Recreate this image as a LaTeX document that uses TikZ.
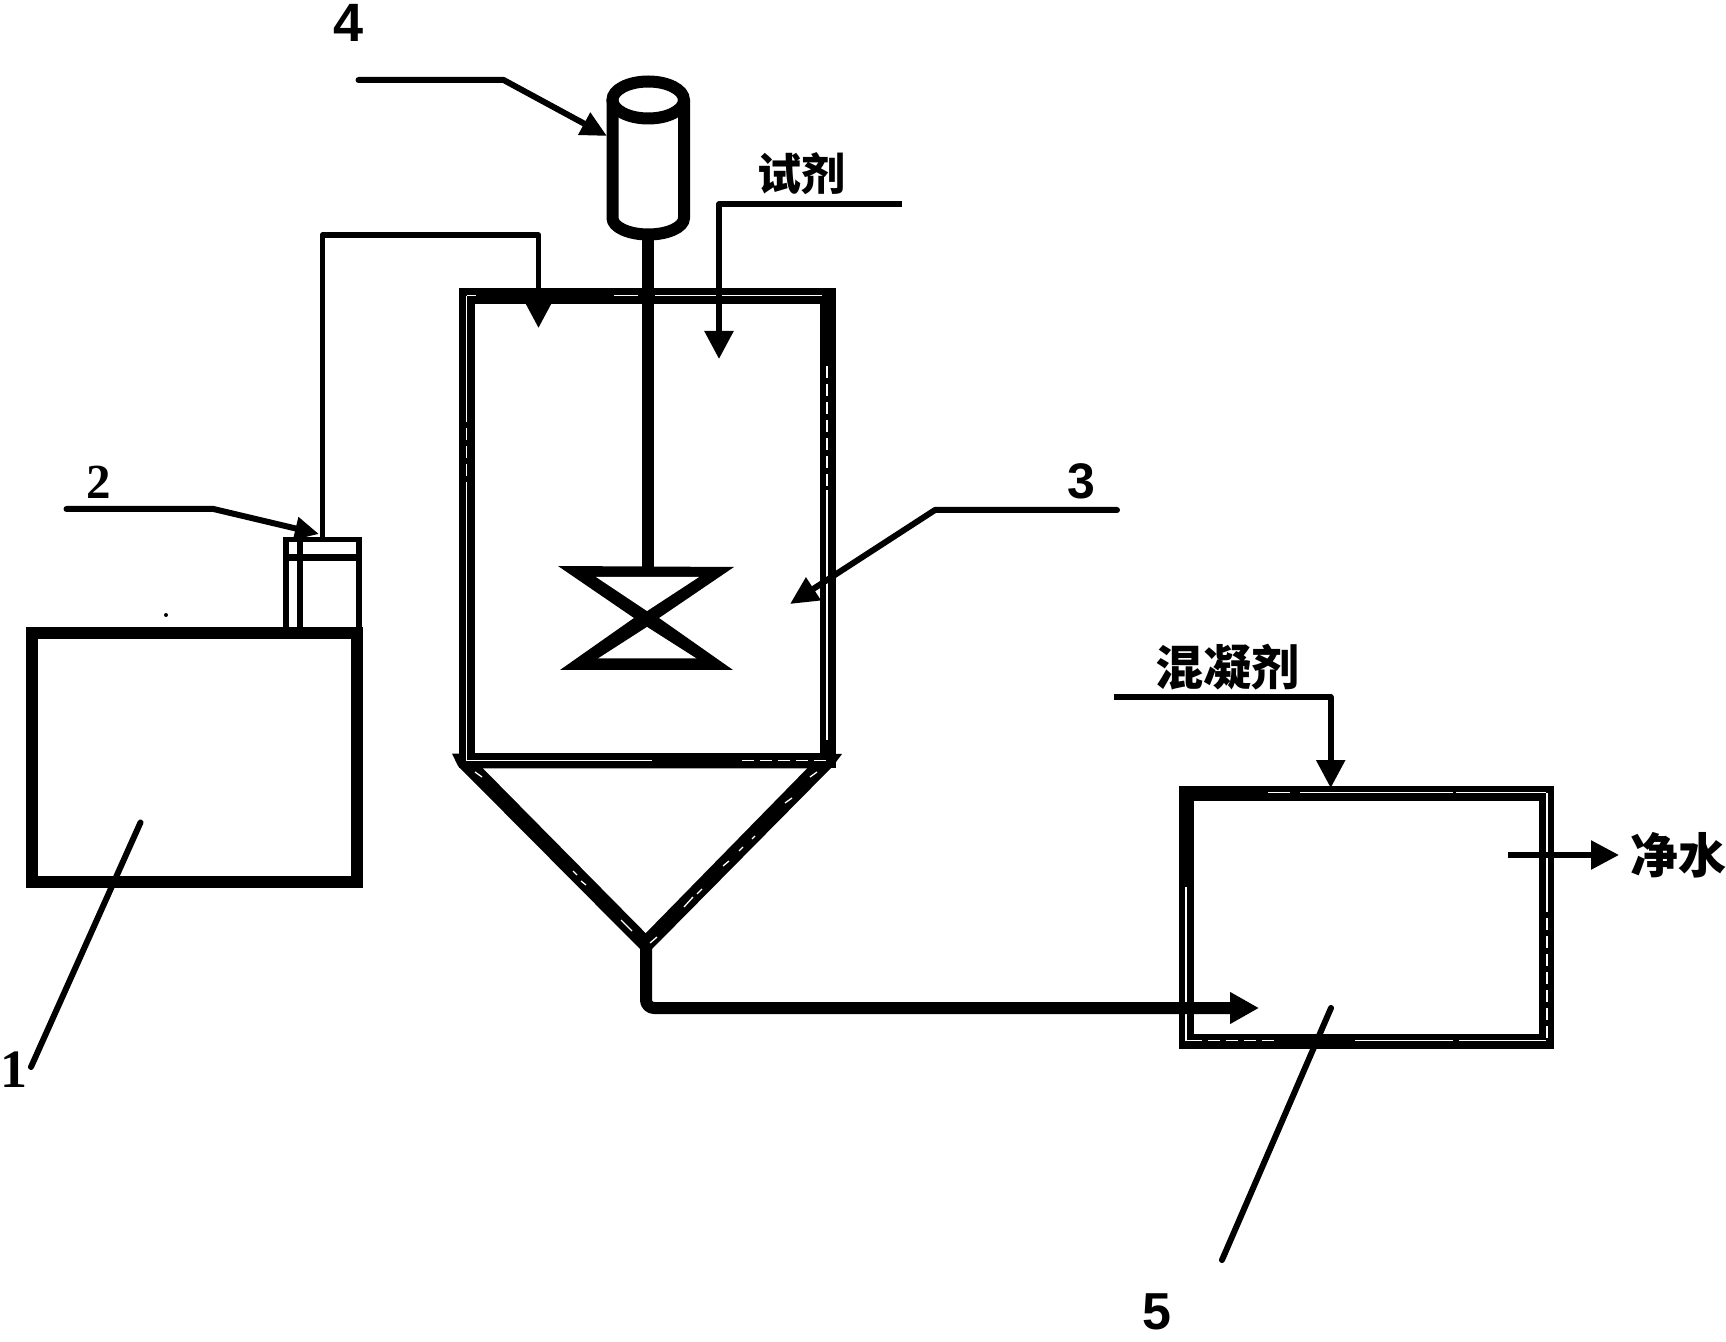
\documentclass[tikz,border=0pt]{standalone}
\usepackage{fontspec}
\setmainfont{Liberation Serif}
\newfontfamily\numsans{Liberation Sans}
\newfontfamily\cjk{Noto Sans CJK SC}
\usetikzlibrary{arrows.meta}
\tikzset{
  every node/.style={inner sep=0pt,outer sep=0pt},
  wall/.style={draw=black,line width=#1,line join=miter,line cap=butt},
  hair/.style={draw=white,line width=0.65pt},
  hairdash/.style={draw=white,line width=0.6pt,dash pattern=on 6pt off 3pt},
  leader/.style={draw=black,line width=3pt,line cap=round,line join=round},
  pipe/.style={draw=black,line width=2.8pt,line join=round},
  tip/.style={-{Triangle[length=14pt,width=14pt]}},
  cjklabel/.style={font=\cjk\bfseries\fontsize{#1}{#1}\selectfont},
  numlabel/.style={font=\bfseries\fontsize{#1}{#1}\selectfont},
  sanslabel/.style={font=\numsans\bfseries\fontsize{#1}{#1}\selectfont}
}
\begin{document}
\begin{tikzpicture}[x=0.5pt,y=-0.5pt]
\useasboundingbox (0,0) rectangle (1726,1342);
% named points
\coordinate (feedA) at (322.5,537);
\coordinate (feedB) at (322.5,235);
\coordinate (feedC) at (538.5,235);
\coordinate (feedD) at (538.5,328);
\coordinate (reagA) at (902,204);
\coordinate (reagB) at (719,204);
\coordinate (reagC) at (719,359);
\coordinate (outA) at (646,949);
\coordinate (outB) at (646,1008);
\coordinate (outC) at (1259,1008);
\coordinate (coagA) at (1114,697);
\coordinate (coagB) at (1330.7,697);
\coordinate (coagC) at (1330.7,788);
\coordinate (cleanA) at (1508,855);
\coordinate (cleanB) at (1619,855);
% tank 1
\draw[wall=6.3pt] (32,633) rectangle (357,882);
\fill (166,615) circle (1pt);
% pump 2
\draw[wall=2.8pt] (286,630) -- (286,539.5) -- (359,539.5) -- (359,630);
\draw[wall=2.8pt] (300,539) -- (300,630);
\draw[wall=3.4pt] (286,557.5) -- (359,557.5);
% tank 3 cone
\fill[black] (452,753.5) -- (842,754) -- (833,766) -- (652,949) -- (640,949) -- (458,766) -- cycle;
\fill[white] (483,768.3) -- (807,768.3) -- (645.7,933) -- cycle;
\draw[wall=8pt] (466.5,768) -- (466.5,296) -- (827.5,296) -- (827.5,768);
\fill[black] (459,752.7) rectangle (836,768.3);
% tank 3 white hairlines
\draw[hair] (466.5,296) -- (466.5,410);
\draw[hairdash] (466.5,410) -- (466.5,490);
\draw[hair] (466.5,490) -- (466.5,760.7) -- (652,760.7);
\draw[hair] (466.5,295.5) -- (476,295.5);
\draw[hair] (614,295.5) -- (638,295.5);
\draw[hair] (655,295.5) -- (822,295.5);
\draw[hairdash] (827,366) -- (827,487);
\draw[hair] (827,490) -- (827,740);
\draw[hairdash] (742,760.7) -- (826,760.7);
\draw[hair] (475,772) -- (482,777);
\draw[hair] (573,871) -- (577,875);
\draw[hair] (581,881) -- (586,885);
\draw[hair] (621,920) -- (632,931);
\draw[hair] (810,777) -- (817,772);
\draw[hair] (785,803) -- (792,798);
\draw[hair] (752,839) -- (755,836);
\draw[hair] (739,851) -- (743,847);
\draw[hair] (723,866) -- (729,861);
\draw[hair] (697,894) -- (702,889);
\draw[hair] (684,907) -- (693,897);
\draw[hair] (650,943) -- (657,937);
% motor 4
\draw[wall=6pt] (612.5,100) -- (612.5,218) arc[start angle=180,end angle=0,x radius=35.75,y radius=16.5] -- (684,100);
\draw[wall=6pt] (648.2,100) ellipse[x radius=35.75,y radius=18.5];
% shaft and agitator
\draw[wall=6.2pt] (648,236) -- (648,568);
\fill[black] (558,566) -- (734,567) -- (659,618) -- (733,670) -- (560,670) -- (634,618) -- cycle;
\fill[white] (596,577) -- (699,577) -- (647,611) -- cycle;
\fill[white] (598,658.5) -- (696.5,658.5) -- (647,627) -- cycle;
% tank 5
\draw[wall=7.5pt] (1186.5,793) rectangle (1546.5,1041);
\draw[hair] (1268,792.7) -- (1290,792.7);
\draw[hair] (1300,792.7) -- (1453,792.7);
\draw[hair] (1456,792.7) -- (1546,792.7);
\draw[hair] (1547,793) -- (1547,900);
\draw[hairdash] (1547,900) -- (1547,1040);
\draw[hairdash] (1190,1040.7) -- (1275,1040.7);
\draw[hair] (1355,1040.7) -- (1453,1040.7);
\draw[hair] (1459,1040.7) -- (1546,1040.7);
\draw[hair] (1186,887) -- (1186,1040.7) -- (1192,1040.7);
% connectors
\draw[pipe,tip] (feedA) -- (feedB) -- (feedC) -- (feedD);
\draw[pipe,tip] (reagA) -- (reagB) -- (reagC);
\draw[wall=6pt,line join=round,rounded corners=4pt,-{Triangle[length=14.5pt,width=15pt]}] (outA) -- (outB) -- (outC);
\draw[pipe,tip] (coagA) -- (coagB) -- (coagC);
\draw[pipe,tip] (cleanA) -- (cleanB);
% leaders
\coordinate (ldTwoA) at (66.5,509);
\coordinate (ldTwoB) at (213.5,509);
\coordinate (ldTwoC) at (319,534);
\draw[leader,-{Triangle[length=12pt,width=11pt]}] (ldTwoA) -- (ldTwoB) -- (ldTwoC);
\coordinate (ldFourA) at (358.5,80);
\coordinate (ldFourB) at (503.6,80);
\coordinate (ldFourC) at (607,136);
\draw[leader,-{Triangle[length=13pt,width=12pt]}] (ldFourA) -- (ldFourB) -- (ldFourC);
\coordinate (ldThreeA) at (1117,510);
\coordinate (ldThreeB) at (935,510);
\coordinate (ldThreeC) at (790,604);
\draw[leader,-{Triangle[length=14pt,width=13pt]}] (ldThreeA) -- (ldThreeB) -- (ldThreeC);
\coordinate (ldOneA) at (140.5,822.5);
\coordinate (ldOneB) at (31,1067);
\draw[leader] (ldOneA) -- (ldOneB);
\coordinate (ldFiveA) at (1331,1008);
\coordinate (ldFiveB) at (1222,1260);
\draw[leader] (ldFiveA) -- (ldFiveB);
% labels
\node[sanslabel=27pt] (lbFour) at (349,23) {4};
\node[numlabel=24.5pt] (lbTwo) at (98.5,482) {2};
\node[sanslabel=25pt] (lbThree) at (1081,481.5) {3};
\node[numlabel=27pt] (lbOne) at (14,1070) {1};
\node[sanslabel=26pt] (lbFive) at (1156.5,1312) {5};
\node[cjklabel=22pt] (lbReag) at (801,174) {试剂};
\node[cjklabel=24pt] (lbCoag) at (1227,667) {混凝剂};
\node[cjklabel=24pt] (lbClean) at (1678,855) {净水};
\end{tikzpicture}
\end{document}
